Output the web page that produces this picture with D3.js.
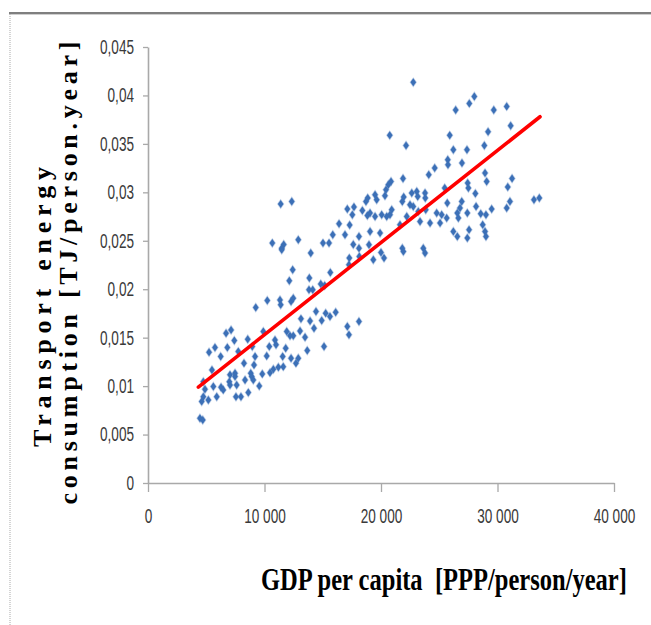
<!DOCTYPE html>
<html>
<head>
<meta charset="utf-8">
<script src="https://cdn.jsdelivr.net/npm/d3@7"></script>
<style>
html,body{margin:0;padding:0;background:#fff;}
svg{display:block;}
</style>
</head>
<body>
<svg id="chart" width="651" height="625"></svg>
<script>
// ---- data ----
const gdp = [11390,12340,17110,17680,17540,18400,18710,18860,18830,16400,17310,15860,16910,18110,10670,11650,12900,15020,15540,17620,11480,18110,18970,
22770,28010,27580,26410,29680,30790,20750,22150,25900,29190,31130,28870,26210,27380,25730,25750,26950,24610,24100,21890,20860,20630,28930,29070,31250,30880,27440,27500,25470,20430,19490,19630,20340,21950,21830,22640,23070,23780,23150,23800,22490,22770,23200,23840,25690,28100,26930,28160,29500,31070,30790,33130,33590,19060,19490,20060,20490,20920,20770,22210,23350,24210,24780,25210,25070,25640,26550,26780,26640,27410,28560,29010,19060,19920,21630,26210,26550,27560,27410,28730,28930,29010,21830,23630,
11480,13970,12420,12130,13850,15650,17250,17280,18140,14830,15170,13820,14140,10240,9250,11390,11330,12280,12470,14420,13130,13910,15250,15620,16110,14910,14250,18110,17110,17250,11910,12190,12470,13050,13480,9900,10900,10990,10410,11820,13670,15110,7130,6700,7410,8560,8950,5750,5240,6810,7750,6240,10190,11560,12280,12900,12700,9190,8240,9100,11610,11190,10760,10470,9810,8820,8900,9040,8330,7470,7040,6980,7470,5490,4750,5610,6270,6460,7040,7610,4890,4750,5180,5900,4610,7550,7980,8610,9550,4460,4700,
19340,20000,20260,21920,23780];
const energy = [0.02879,0.02906,0.02827,0.02848,0.02768,0.02813,0.02906,0.02941,0.02761,0.02675,0.02662,0.02562,0.02562,0.02544,0.02476,0.02462,0.0251,0.02476,0.02476,0.02462,0.02424,0.02424,0.02459,
0.04135,0.0399,0.03918,0.0385,0.0385,0.03887,0.03588,0.03484,0.03588,0.03626,0.03688,0.03484,0.0344,0.0344,0.03337,0.03285,0.03303,0.03251,0.03182,0.03143,0.03112,0.03078,0.03199,0.03112,0.03143,0.03055,0.03096,0.03044,0.03044,0.03027,0.02975,0.02923,0.02965,0.02951,0.02906,0.02993,0.03009,0.02993,0.02957,0.02941,0.02872,0.02854,0.02803,0.0282,0.02889,0.02988,0.02906,0.02854,0.02827,0.02906,0.02838,0.02923,0.02941,0.02786,0.02751,0.02768,0.02751,0.0282,0.02768,0.02751,0.02699,0.02683,0.02786,0.02768,0.02683,0.02734,0.02786,0.02838,0.02734,0.02786,0.02779,0.02768,0.02596,0.02579,0.02665,0.02596,0.02544,0.02613,0.02528,0.02665,0.02596,0.02544,0.02424,0.02424,
0.02407,0.02373,0.022,0.02087,0.02115,0.02172,0.02252,0.02321,0.02338,0.02053,0.02038,0.01994,0.01994,0.01883,0.01811,0.01839,0.0189,0.01873,0.01908,0.0177,0.01694,0.01673,0.01753,0.01718,0.01763,0.01677,0.01598,0.01666,0.01615,0.01529,0.01563,0.01519,0.01519,0.0157,0.01505,0.01563,0.01477,0.01426,0.01408,0.01391,0.01367,0.01408,0.0158,0.01546,0.0147,0.01484,0.01408,0.01398,0.0135,0.01398,0.01356,0.01305,0.01312,0.01305,0.01288,0.01288,0.01237,0.01305,0.01237,0.01219,0.01201,0.01195,0.01175,0.01139,0.01126,0.01133,0.01098,0.01064,0.01064,0.01133,0.01116,0.01046,0.01098,0.01167,0.01046,0.00995,0.00989,0.00961,0.01012,0.01012,0.00968,0.00891,0.00857,0.00891,0.0084,0.00891,0.00891,0.00933,0.01002,0.00668,0.00651,
0.02304,0.02379,0.02321,0.02389,0.02373];
const trendGdp = [4320, 33650];
const trendEnergy = [0.0099, 0.0378];
const xTickValues = [0, 10000, 20000, 30000, 40000];
const xTickLabels = ["0", "10 000", "20 000", "30 000", "40 000"];
const yTickValues = [0, 0.005, 0.01, 0.015, 0.02, 0.025, 0.03, 0.035, 0.04, 0.045];
const yTickLabels = ["0", "0,005", "0,01", "0,015", "0,02", "0,025", "0,03", "0,035", "0,04", "0,045"];
const xTitle = "GDP per capita  [PPP/person/year]";
const yTitleLines = ["Transport energy", "consumption [TJ/person.year]"];

// ---- drawing ----
const svg = d3.select("#chart");
svg.append("rect").attr("width", 651).attr("height", 625).attr("fill", "#fff");

// frame
svg.append("rect").attr("x", 9).attr("y", 12).attr("width", 642).attr("height", 2).attr("fill", "#7f7f7f");
svg.append("line").attr("x1", 9).attr("x2", 651).attr("y1", 14.5).attr("y2", 14.5).attr("stroke", "#cfcfcf").attr("stroke-width", 1);
svg.append("line").attr("x1", 10).attr("x2", 10).attr("y1", 14).attr("y2", 625)
  .attr("stroke", "#b8b8b8").attr("stroke-width", 1.2).attr("stroke-dasharray", "1,1");

const x = d3.scaleLinear().domain([0, 40000]).range([148, 614]);
const y = d3.scaleLinear().domain([0, 0.045]).range([483, 47]);

const axisColor = "#a9a9a9";
const squish = 0.68;

const yAxis = svg.append("g").attr("transform", `translate(${x(0)},0)`)
  .call(d3.axisLeft(y).tickValues(yTickValues).tickFormat((d, i) => yTickLabels[i]).tickSize(5).tickPadding(9).tickSizeOuter(0));
const xAxis = svg.append("g").attr("transform", `translate(0,${y(0)})`)
  .call(d3.axisBottom(x).tickValues(xTickValues).tickFormat((d, i) => xTickLabels[i]).tickSize(9).tickPadding(17).tickSizeOuter(0));

[xAxis, yAxis].forEach(g => {
  g.select(".domain").attr("stroke", axisColor).attr("stroke-width", 1.6);
  g.selectAll(".tick line").attr("stroke", axisColor).attr("stroke-width", 1.3);
  g.selectAll(".tick text")
    .attr("fill", "#3a3a3a")
    .style("font-family", "'Liberation Sans', Arial, sans-serif")
    .style("font-size", "20px")
    .style("white-space", "pre")
    .each(function () {
      const t = d3.select(this);
      const xv = +t.attr("x") || 0;
      t.attr("x", xv / squish).attr("transform", `scale(${squish},1)`);
    });
});

// points
const pts = gdp.map((g, i) => [g, energy[i]]);
svg.append("g").selectAll("path").data(pts).join("path")
  .attr("transform", d => `translate(${x(d[0])},${y(d[1])})`)
  .attr("d", "M0,-4 L2.8,0 L0,4 L-2.8,0 Z")
  .attr("fill", "#3c70b7")
  .attr("stroke", "rgba(60,112,183,0.35)")
  .attr("stroke-width", 1.4);

// trend line
svg.append("line")
  .attr("x1", x(trendGdp[0])).attr("y1", y(trendEnergy[0]))
  .attr("x2", x(trendGdp[1])).attr("y2", y(trendEnergy[1]))
  .attr("stroke", "#ff0000").attr("stroke-width", 3.6).attr("stroke-linecap", "round");

// x title
const xt = svg.append("text")
  .attr("x", 0).attr("y", 0)
  .style("font-family", "'Liberation Serif', 'Times New Roman', serif")
  .style("font-weight", "bold").style("font-size", "32px")
  .style("white-space", "pre")
  .attr("fill", "#000")
  .text(xTitle);
const xtLen = xt.node().getComputedTextLength();
xt.attr("transform", `translate(261,590) scale(${366 / xtLen},1)`);

// y title (two lines, rotated)
const yTitleSpec = [
  { cx: 51, cy: 307, len: 280 },
  { cx: 77, cy: 273, len: 463 }
];
yTitleLines.forEach((t, i) => {
  const s = yTitleSpec[i];
  svg.append("text")
    .attr("transform", `translate(${s.cx},${s.cy}) rotate(-90)`)
    .attr("x", 0).attr("y", 0)
    .attr("text-anchor", "middle")
    .attr("textLength", s.len).attr("lengthAdjust", "spacing")
    .style("font-family", "'Liberation Serif', 'Times New Roman', serif")
    .style("font-weight", "bold").style("font-size", "26px")
    .attr("fill", "#000")
    .text(t);
});
</script>
</body>
</html>
